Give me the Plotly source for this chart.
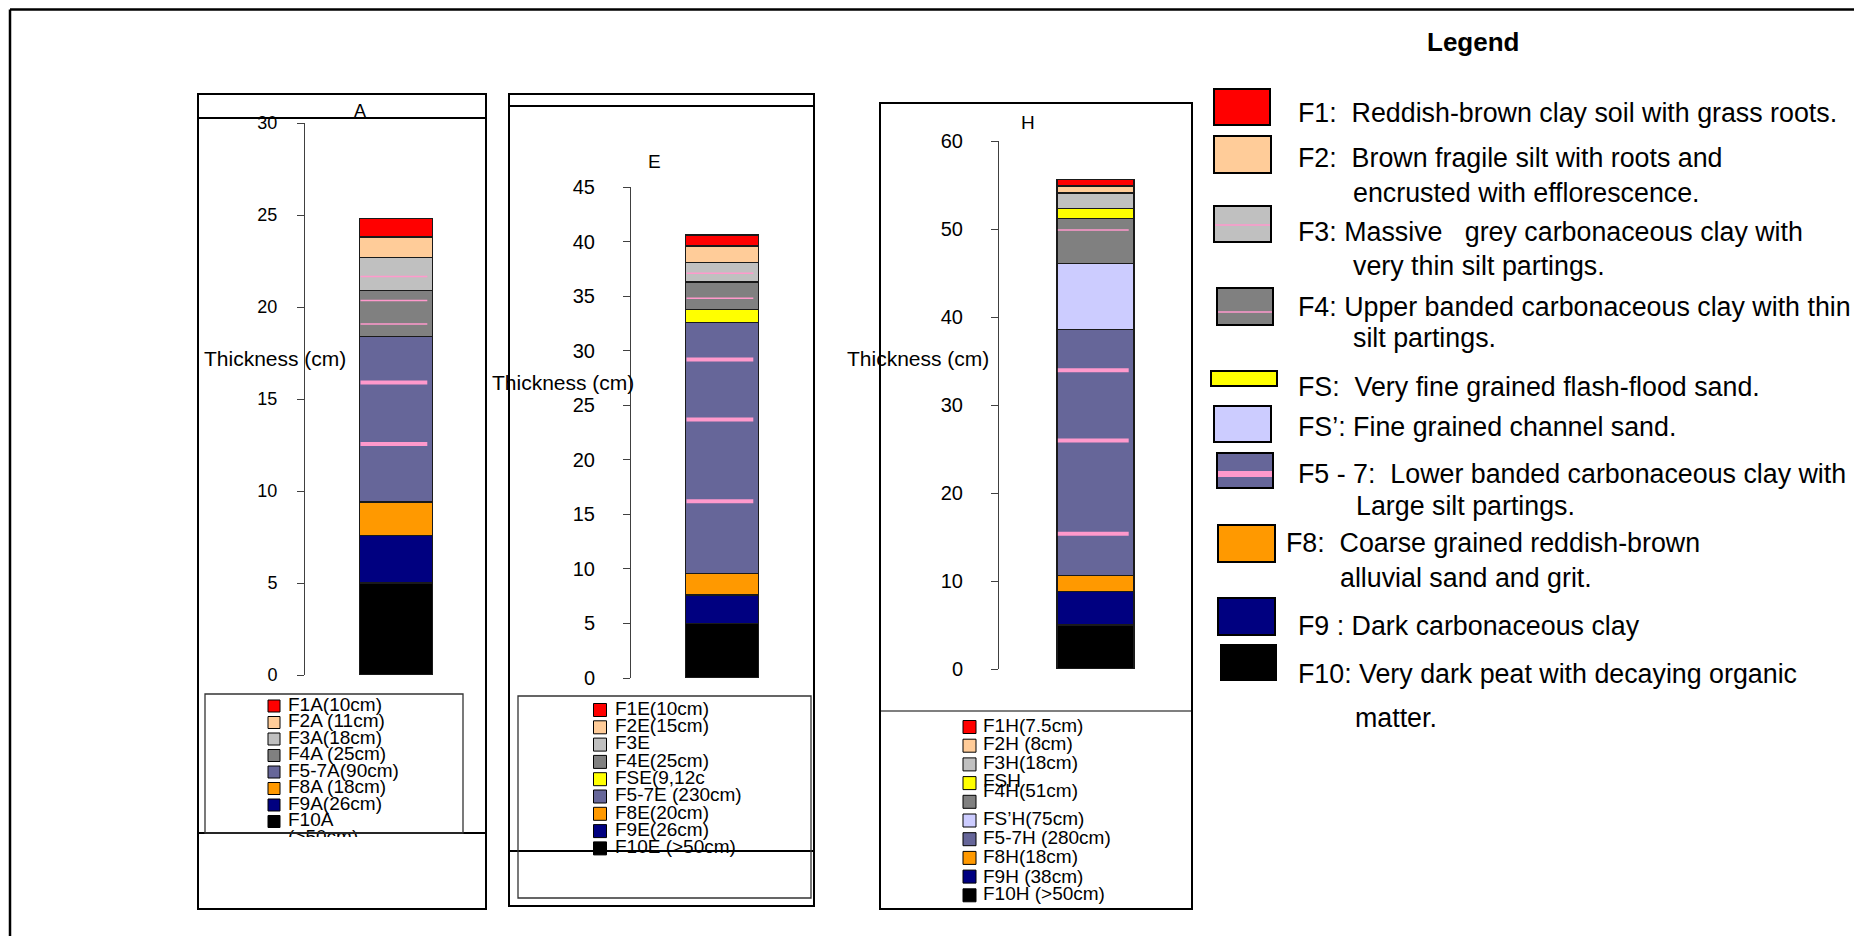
import plotly.graph_objects as go

W, H = 1854, 936
FONT = "Liberation Sans, Arial, sans-serif"

# ---- layer colours -------------------------------------------------------
LAYER_COLORS = {
    "F1": "#FF0000", "F2": "#FFCC99", "F3": "#C0C0C0", "F4": "#808080",
    "FS": "#FFFF00", "FS'": "#CCCCFF", "F5-7": "#666699", "F8": "#FF9900",
    "F9": "#000080", "F10": "#000000",
}
PARTING_COLOR = "#FF99CC"
CM_PER_UNIT = 10  # one axis unit = 10 cm of section

# ---- section A (listed top to bottom) -------------------------------------
A_layers = ["F1", "F2", "F3", "F4", "F5-7", "F8", "F9", "F10"]
A_thickness_cm = [10, 11, 18, 25, 90, 18, 26, 50]
A_labels = ["F1A(10cm)", "F2A (11cm)", "F3A(18cm)", "F4A (25cm)",
            "F5-7A(90cm)", "F8A (18cm)", "F9A(26cm)", "F10A\n(>50cm)"]
A_partings_thin = [21.66, 20.36, 19.07]
A_partings_thick = [15.89, 12.55]

# ---- section E -------------------------------------------------------------
E_layers = ["F1", "F2", "F3", "F4", "FS", "F5-7", "F8", "F9", "F10"]
E_thickness_cm = [10, 15, 18, 25, 12, 230, 20, 26, 50]
E_labels = ["F1E(10cm)", "F2E(15cm)", "F3E", "F4E(25cm)", "FSE(9,12c",
            "F5-7E (230cm)", "F8E(20cm)", "F9E(26cm)", "F10E (>50cm)"]
E_partings_thin = [37.1, 34.8]
E_partings_thick = [29.2, 23.7, 16.2]

# ---- section H -------------------------------------------------------------
H_layers = ["F1", "F2", "F3", "FS", "F4", "FS'", "F5-7", "F8", "F9", "F10"]
H_thickness_cm = [7.5, 8, 18, 11, 51, 75, 280, 18, 38, 50]
H_labels = ["F1H(7.5cm)", "F2H (8cm)", "F3H(18cm)", "FSH", "F4H(51cm)",
            "FS\u2019H(75cm)", "F5-7H (280cm)", "F8H(18cm)", "F9H (38cm)",
            "F10H (>50cm)"]
H_partings_thin = [49.9]
H_partings_thick = [33.95, 25.97, 15.36]

# ---- key to the facies -----------------------------------------------------
KEY_LAYERS = ["F1", "F2", "F3", "F4", "FS", "FS'", "F5-7", "F8", "F9", "F10"]
KEY_TEXT = [
    ["F1:\u00a0 Reddish-brown clay soil with grass roots."],
    ["F2:\u00a0 Brown fragile silt with roots and", "encrusted with efflorescence."],
    ["F3: Massive \u00a0 grey carbonaceous clay with", "very thin silt partings."],
    ["F4: Upper banded carbonaceous clay with thin", "silt partings."],
    ["FS:\u00a0 Very fine grained flash-flood sand."],
    ["FS\u2019: Fine grained channel sand."],
    ["F5 - 7:\u00a0 Lower banded carbonaceous clay with", "Large silt partings."],
    ["F8:\u00a0 Coarse grained reddish-brown", "alluvial sand and grit."],
    ["F9 : Dark carbonaceous clay"],
    ["F10: Very dark peat with decaying organic", "matter."],
]


def px(x):
    return min(max(x / W, 0.0), 1.0)


def py(y):
    return min(max(1 - y / H, 0.0), 1.0)


def rect(x0, y0, x1, y1, width=2.0, color="black", fill="rgba(0,0,0,0)"):
    return dict(type="rect", xref="paper", yref="paper", layer="above",
                x0=px(x0), x1=px(x1), y0=py(y1), y1=py(y0),
                line=dict(color=color, width=width), fillcolor=fill)


def hline(x0, x1, y, width=2.0, color="black"):
    return dict(type="line", xref="paper", yref="paper", layer="above",
                x0=px(x0), x1=px(x1), y0=py(y), y1=py(y),
                line=dict(color=color, width=width))


def vline(x, y0, y1, width=2.0, color="black"):
    return dict(type="line", xref="paper", yref="paper", layer="above",
                x0=px(x), x1=px(x), y0=py(y0), y1=py(y1),
                line=dict(color=color, width=width))


def note(x, y, text, size, anchor="left", bold=False):
    return dict(x=px(x), y=py(y), xref="paper", yref="paper", showarrow=False,
                xanchor=anchor, yanchor="middle",
                text=f"<b>{text}</b>" if bold else text,
                font=dict(family=FONT, size=size, color="black"))


# panel geometry (pixels)
PANELS = [
    dict(name="A", layers=A_layers, cm=A_thickness_cm, labels=A_labels,
         thin=A_partings_thin, thick=A_partings_thick,
         axis_x=305, right=487, zero_y=675, top_y=123, ymax=30, dtick=5,
         tick_size=18, standoff=16,
         frame=(198, 94, 486, 909), head_y=118, cut_y=833,
         title=(275, 358), letter=(360, 111, 18),
         leg_box=(205, 694, 463, 833), leg_clip=(198, 694, 486, 837),
         sq_x=274, sq_size=12, txt_x=288, rows0=706, pitch=16.5,
         txt_shift=None, leg_size=19),
    dict(name="E", layers=E_layers, cm=E_thickness_cm, labels=E_labels,
         thin=E_partings_thin, thick=E_partings_thick,
         axis_x=631, right=813, zero_y=678, top_y=187, ymax=45, dtick=5,
         tick_size=20, standoff=24,
         frame=(509, 94, 814, 906), head_y=106, cut_y=851,
         title=(563, 382), letter=(654, 161, 19),
         leg_box=(518, 696, 811, 898), leg_clip=(509, 694, 814, 905),
         sq_x=600, sq_size=13, txt_x=615, rows0=710, pitch=17.3,
         txt_shift=None, leg_size=19),
    dict(name="H", layers=H_layers, cm=H_thickness_cm, labels=H_labels,
         thin=H_partings_thin, thick=H_partings_thick,
         axis_x=999, right=1192, zero_y=669, top_y=141, ymax=60, dtick=10,
         tick_size=20, standoff=24,
         frame=(880, 103, 1192, 909), head_y=None, cut_y=711,
         title=(918, 358), letter=(1028, 123, 19),
         leg_box=None, leg_clip=(880, 712, 1192, 908),
         sq_x=969.5, sq_size=13, txt_x=983, rows0=727, pitch=18.7,
         txt_shift=[0, 0, 0, -1, -10, 0, 0, 0, 2, 0], leg_size=19),
]

fig = go.Figure()
shapes, annotations = [], []
layout = dict(width=W, height=H, autosize=False,
              margin=dict(l=0, r=0, t=0, b=0, pad=0, autoexpand=False),
              paper_bgcolor="white", plot_bgcolor="rgba(0,0,0,0)",
              barmode="stack", showlegend=False, hovermode=False)

BAR_WIDTH = 0.4
for i, p in enumerate(PANELS):
    n = i + 1
    xa, ya = f"x{n}", f"y{n}"
    # stacked column, bottom layer first
    for layer, cm in zip(reversed(p["layers"]), reversed(p["cm"])):
        fig.add_trace(go.Bar(
            x=[p["name"]], y=[cm / CM_PER_UNIT], width=BAR_WIDTH,
            marker=dict(color=LAYER_COLORS[layer],
                        line=dict(color="#1a1a1a", width=1.3)),
            xaxis=xa, yaxis=ya, name=layer))
    layout[f"xaxis{n}"] = dict(domain=[px(p["axis_x"]), px(p["right"])],
                               range=[-0.5, 0.5], visible=False,
                               anchor=ya, fixedrange=True)
    layout[f"yaxis{n}"] = dict(
        domain=[py(p["zero_y"]), py(p["top_y"])], range=[0, p["ymax"]],
        anchor=xa, dtick=p["dtick"], tick0=0, showgrid=False, zeroline=False,
        showline=True, linecolor="#404040", linewidth=1, ticks="outside",
        ticklen=7, tickwidth=1, tickcolor="#404040",
        ticklabelstandoff=p["standoff"], automargin=False,
        tickfont=dict(family=FONT, size=p["tick_size"], color="black"))

    # silt partings
    for ys, w in ((p["thin"], 1.5), (p["thick"], 4)):
        for yv in ys:
            shapes.append(dict(type="line", xref=xa, yref=ya, layer="above",
                               x0=-BAR_WIDTH / 2 + 0.005, x1=BAR_WIDTH / 2 - 0.028,
                               y0=yv, y1=yv,
                               line=dict(color=PARTING_COLOR, width=w)))

    # frames
    fx0, fy0, fx1, fy1 = p["frame"]
    shapes.append(rect(fx0, fy0, fx1, fy1, width=2))
    if p["head_y"]:
        shapes.append(hline(fx0, fx1, p["head_y"], width=2))
    shapes.append(hline(fx0, fx1, p["cut_y"], width=2 if p["name"] != "H" else 1.2))
    if p["leg_box"]:
        bx0, by0, bx1, by1 = p["leg_box"]
        shapes.append(rect(bx0, by0, bx1, by1, width=1.3, color="#333333"))

    annotations.append(note(p["title"][0], p["title"][1], "Thickness (cm)", 21,
                            anchor="center"))
    lx, ly, ls = p["letter"]
    annotations.append(note(lx, ly, p["name"], ls, anchor="center"))

    # per-section key, clipped to its box
    m = n + 3
    cx0, cy0, cx1, cy1 = p["leg_clip"]
    layout[f"xaxis{m}"] = dict(domain=[px(cx0), px(cx1)], range=[cx0, cx1],
                               visible=False, anchor=f"y{m}", fixedrange=True)
    layout[f"yaxis{m}"] = dict(domain=[py(cy1), py(cy0)], range=[cy1, cy0],
                               visible=False, anchor=f"x{m}", fixedrange=True)
    rows = [p["rows0"] + k * p["pitch"] for k in range(len(p["labels"]))]
    fig.add_trace(go.Scatter(
        x=[p["sq_x"]] * len(rows), y=rows, mode="markers",
        marker=dict(symbol="square", size=p["sq_size"],
                    color=[LAYER_COLORS[l] for l in p["layers"]],
                    line=dict(color="black", width=1)),
        xaxis=f"x{m}", yaxis=f"y{m}", cliponaxis=True))
    tx, ty = [], []
    for k, lab in enumerate(p["labels"]):
        shift = p["txt_shift"][k] if p["txt_shift"] else 0
        for j, part in enumerate(lab.split("\n")):
            tx.append(part)
            ty.append(rows[k] + shift + j * p["pitch"])
    fig.add_trace(go.Scatter(
        x=[p["txt_x"]] * len(tx), y=ty, mode="text", text=tx,
        textposition="middle right",
        textfont=dict(family=FONT, size=p["leg_size"], color="black"),
        xaxis=f"x{m}", yaxis=f"y{m}", cliponaxis=True))

# ---- facies key on the right ----------------------------------------------
SWATCHES = [
    (1214, 89, 1270, 125), (1214, 136, 1271, 173), (1214, 206, 1271, 242),
    (1217, 288, 1273, 325), (1211, 371, 1277, 386), (1214, 406, 1271, 442),
    (1217, 453, 1273, 488), (1218, 525, 1275, 562), (1218, 598, 1275, 635),
    (1220, 644, 1277, 681),
]
SWATCH_STRIPE = {"F3": (225, 1.5), "F4": (312, 1.5), "F5-7": (474, 6)}
TEXT_POS = [
    [(1296, 113)],
    [(1296, 158), (1351, 193)],
    [(1296, 232), (1351, 266)],
    [(1296, 307), (1351, 338)],
    [(1296, 387)],
    [(1296, 427)],
    [(1296, 474), (1354, 506)],
    [(1284, 543), (1338, 578)],
    [(1296, 626)],
    [(1296, 674), (1353, 718)],
]
for layer, box, lines, pos in zip(KEY_LAYERS, SWATCHES, KEY_TEXT, TEXT_POS):
    x0, y0, x1, y1 = box
    border = 0 if layer == "F10" else 2
    shapes.append(rect(x0, y0, x1, y1, width=border,
                       color="black" if border else "rgba(0,0,0,0)",
                       fill=LAYER_COLORS[layer]))
    if layer in SWATCH_STRIPE:
        sy, sw = SWATCH_STRIPE[layer]
        shapes.append(hline(x0 + 1, x1 - 1, sy, width=sw, color=PARTING_COLOR))
    for line_text, (tx_, ty_) in zip(lines, pos):
        annotations.append(note(tx_, ty_, line_text, 26.8))

annotations.append(note(1473, 42, "Legend", 26, anchor="center", bold=True))

# outer frame (its right and bottom sides fall past the page edge)
shapes.append(hline(10, W, 9.5, width=2.5))
shapes.append(vline(10, 9.5, H, width=2.5))

layout["shapes"] = shapes
layout["annotations"] = annotations
fig.update_layout(**layout)
fig.write_html("out.html")
